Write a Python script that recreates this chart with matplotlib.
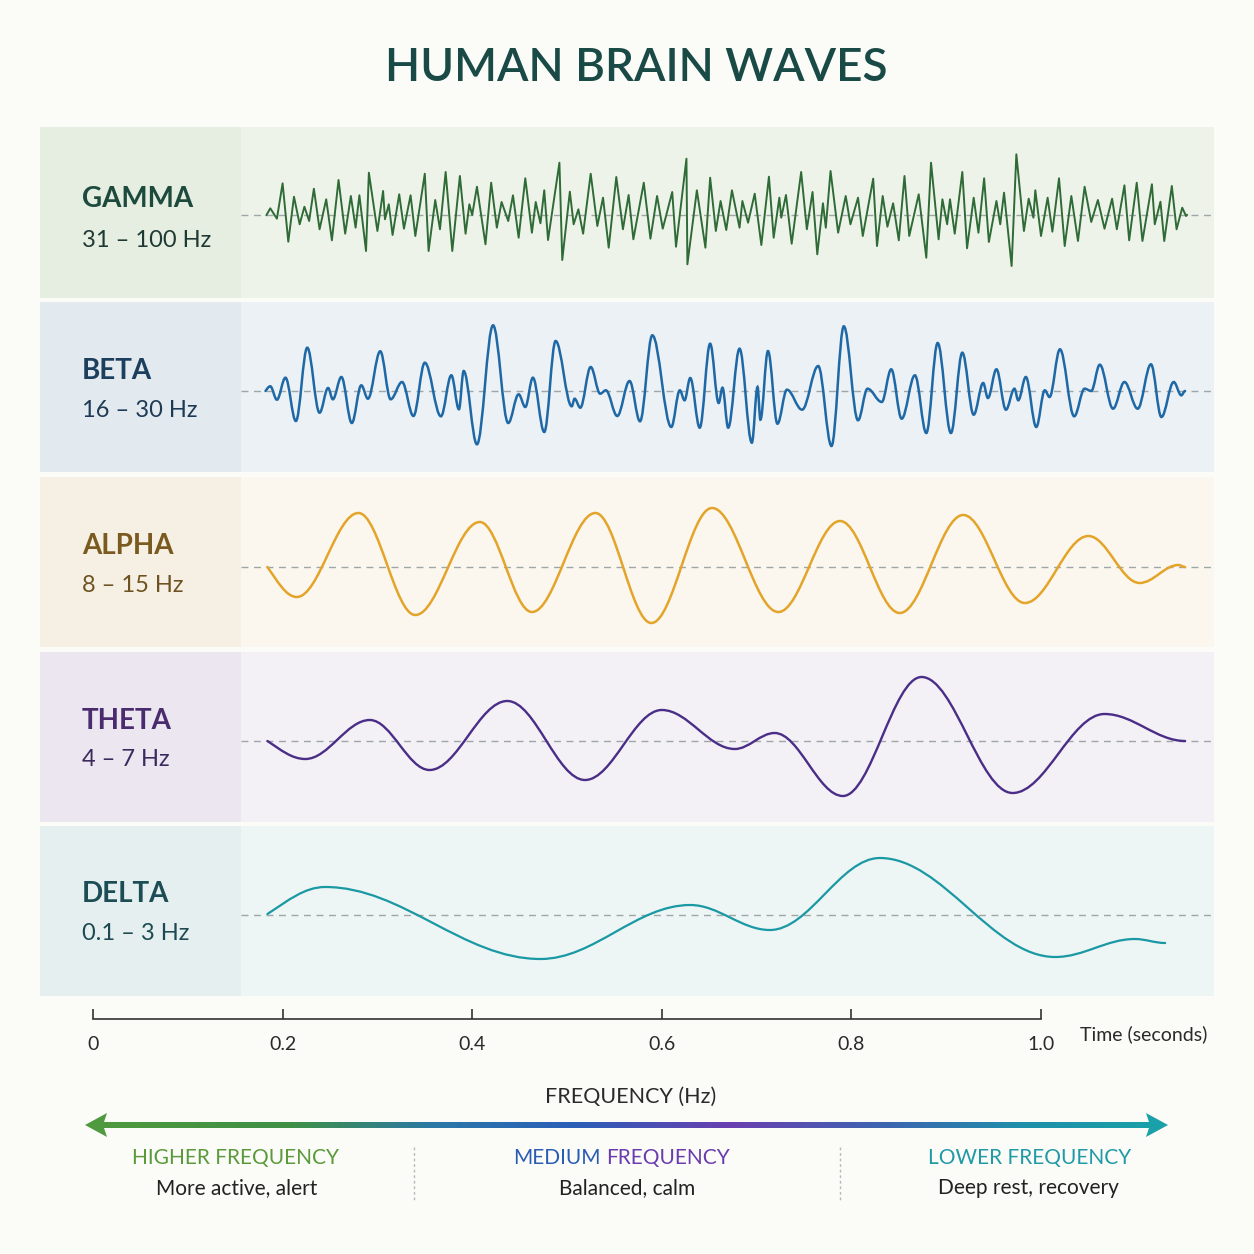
import numpy as np
import matplotlib
matplotlib.use("Agg")
import matplotlib.pyplot as plt
from matplotlib.path import Path
from matplotlib.patches import PathPatch, Polygon
from matplotlib.colors import LinearSegmentedColormap

plt.rcParams['font.family'] = ['Lato', 'DejaVu Sans']

# ---- data: extrema of each trace (time in s, amplitude in display units) ----
band_names = ["GAMMA", "BETA", "ALPHA", "THETA", "DELTA"]
band_ranges = ["31 – 100 Hz", "16 – 30 Hz", "8 – 15 Hz", "4 – 7 Hz", "0.1 – 3 Hz"]

gamma_t = [0.183, 0.187, 0.194, 0.200, 0.206, 0.212, 0.218, 0.223, 0.228, 0.233,
           0.239, 0.246, 0.252, 0.259, 0.266, 0.272, 0.277, 0.281, 0.288, 0.291,
           0.300, 0.306, 0.308, 0.312, 0.316, 0.323, 0.328, 0.335, 0.340, 0.350,
           0.354, 0.361, 0.366, 0.372, 0.379, 0.387, 0.393, 0.397, 0.400, 0.405,
           0.414, 0.420, 0.426, 0.431, 0.438, 0.443, 0.449, 0.456, 0.463, 0.467,
           0.472, 0.476, 0.480, 0.492, 0.495, 0.503, 0.507, 0.512, 0.517, 0.525,
           0.532, 0.538, 0.544, 0.552, 0.559, 0.565, 0.570, 0.581, 0.588, 0.595,
           0.601, 0.611, 0.615, 0.626, 0.627, 0.637, 0.646, 0.651, 0.657, 0.662,
           0.668, 0.674, 0.682, 0.685, 0.691, 0.698, 0.705, 0.713, 0.718, 0.724,
           0.726, 0.731, 0.737, 0.747, 0.753, 0.759, 0.764, 0.770, 0.773, 0.778,
           0.786, 0.794, 0.799, 0.807, 0.812, 0.823, 0.827, 0.833, 0.838, 0.844,
           0.850, 0.856, 0.861, 0.871, 0.879, 0.884, 0.892, 0.896, 0.901, 0.904,
           0.909, 0.917, 0.922, 0.929, 0.934, 0.940, 0.945, 0.953, 0.957, 0.961,
           0.969, 0.974, 0.982, 0.987, 0.992, 0.994, 1.000, 1.007, 1.012, 1.019,
           1.025, 1.032, 1.039, 1.046, 1.053, 1.060, 1.067, 1.075, 1.080, 1.088,
           1.093, 1.101, 1.107, 1.117, 1.120, 1.126, 1.130, 1.138, 1.143, 1.149,
           1.153, 1.154]
gamma_amp = [0, 6.7, -3.7, 31.7, -26.7, 18.3, -9.3, 8.3, -6, 26.3,
             -14.3, 15.7, -25.3, 35, -18.7, 19, -12.7, 19.7, -36, 42.3,
             -16, 24, -4.3, 10.7, -20, 20.7, -13.7, 19.7, -21, 41.3,
             -36, 15, -14.3, 43, -36, 39, -18.7, 10.7, 0, 28.3,
             -29.3, 32.3, -12.7, 13, -6, 19.7, -22.7, 36.7, -17.7, 13,
             -8.3, 24.7, -25, 52.3, -45, 23.3, -9.3, 5.7, -18.7, 41.3,
             -11, 17.3, -32.7, 38, -14.3, 20, -24.3, 32.3, -23.7, 19,
             -13.7, 23, -31.7, 56.3, -49.3, 24.7, -32.7, 37.3, -16, 14,
             -15, 24.7, -12.7, 14, -7.7, 21.3, -30, 38.3, -22.7, 17.3,
             -2.7, 20, -28.7, 43, -14.3, 23, -39.3, 11.7, -12.7, 44,
             -17.7, 19, -9.3, 17.3, -21, 36.3, -31, 19, -11.7, 11.7,
             -25.3, 39, -21, 20.7, -42.7, 52.3, -24.3, 15.7, -9.3, 15.7,
             -18.7, 43, -33.3, 17.3, -17.7, 36.7, -27, 14, -9.3, 22.3,
             -51, 60.7, -16, 16.3, -2.7, 24.7, -21, 17.3, -16.7, 36.7,
             -31, 19, -26, 28.3, -7, 15, -13.7, 16.3, -14.3, 29.7,
             -25.3, 32.3, -26, 30.7, -9.3, 13.3, -26, 29, -14.3, 7.3,
             -1, 0]

beta_t = [0.182, 0.187, 0.194, 0.203, 0.214, 0.226, 0.239, 0.248, 0.253, 0.262,
          0.273, 0.283, 0.290, 0.303, 0.314, 0.326, 0.338, 0.350, 0.367, 0.378,
          0.386, 0.391, 0.405, 0.422, 0.438, 0.449, 0.456, 0.464, 0.476, 0.488,
          0.505, 0.508, 0.514, 0.525, 0.535, 0.541, 0.553, 0.566, 0.577, 0.590,
          0.610, 0.619, 0.624, 0.630, 0.640, 0.651, 0.660, 0.664, 0.670, 0.682,
          0.695, 0.701, 0.704, 0.712, 0.722, 0.732, 0.748, 0.765, 0.779, 0.792,
          0.807, 0.817, 0.832, 0.842, 0.853, 0.867, 0.879, 0.891, 0.905, 0.917,
          0.929, 0.939, 0.944, 0.953, 0.963, 0.972, 0.976, 0.984, 0.995, 1.004,
          1.009, 1.020, 1.035, 1.046, 1.053, 1.062, 1.076, 1.088, 1.102, 1.116,
          1.127, 1.140, 1.148, 1.152]
beta_amp = [0, 4.7, -8.7, 13.3, -30, 43.3, -21.7, 3, -8.3, 14,
            -32, 5.7, -7.7, 39.7, -8.3, 9, -25, 28.3, -25.3, 15.7,
            -18.3, 20, -53.3, 65.7, -32, -3.3, -16, 13.3, -41, 50,
            -15.3, -7.7, -16.7, 24, -2.7, 0.7, -25, 10, -30.3, 55.7,
            -36, 0.7, -9.3, 13, -36.7, 47.3, -12, 3.3, -36.7, 42.3,
            -51.7, 4, -28.7, 40, -32.7, 1.3, -18.7, 25, -55, 64.7,
            -29.3, 2.3, -11, 21.7, -27.7, 15.7, -42, 48, -42, 38.3,
            -23.7, 8, -7, 21.7, -18.7, 2.3, -9.3, 14, -36, 0.7,
            -6, 41.7, -25.3, 2.3, 0, 26.3, -17.7, 9, -17.7, 26.7,
            -26, 9, -4.3, 0]

alpha_t = [0.184, 0.215, 0.280, 0.340, 0.408, 0.463, 0.530, 0.589, 0.653,
           0.723, 0.788, 0.851, 0.918, 0.983, 1.050, 1.104, 1.145, 1.152]
alpha_amp = [0, -30, 54, -48, 45, -45, 54, -56, 59,
             -45, 46, -46, 52, -36, 31, -16, 2, 0]

theta_t = [0.184, 0.224, 0.292, 0.355, 0.437, 0.519, 0.600, 0.677,
           0.719, 0.791, 0.874, 0.970, 1.067, 1.152]
theta_amp = [0, -18, 21, -29, 40, -39, 31, -8,
             8, -55, 64, -52, 27, 0]

delta_t = [0.184, 0.245, 0.472, 0.630, 0.714, 0.830, 1.015, 1.099, 1.131]
delta_amp = [1, 28, -44, 10, -15, 57, -42, -24, -28]

time_ticks = [0, 0.2, 0.4, 0.6, 0.8, 1.0]
time_labels = ["0", "0.2", "0.4", "0.6", "0.8", "1.0"]

# ---- styling ----
wave_colors = ["#2f6b36", "#1f68a6", "#e3a42a", "#4a2d86", "#1a98a4"]
wave_widths = [1.4, 1.8, 1.8, 1.7, 1.6]
panel_bg = ["#eef3ea", "#ebf1f5", "#fcf7ee", "#f3f0f6", "#edf5f5"]
label_bg = ["#e6ede1", "#e2e9ef", "#f6f0e4", "#ebe6f0", "#e5eff0"]
name_colors = ["#1c4a3d", "#1c3f5e", "#7a5a1e", "#4a2c6e", "#1c4c54"]
range_colors = ["#1e3a34", "#1e3a55", "#6e5220", "#3c2a5c", "#1d4a52"]

W = H = 1254
fig = plt.figure(figsize=(12.54, 12.54), dpi=100, facecolor="#fbfbf8")


def px_axes(left, top, right, bottom):
    return fig.add_axes([left / W, 1 - bottom / H, (right - left) / W, (bottom - top) / H])


def to_t(px):
    # pixel column -> seconds on the shared time scale (0 s at 93 px, 1 s at 1041 px)
    return (px - 93) / 948.0


def smooth_path(t, a, k=0.36):
    # cubic segments between extrema, flat tangents at each extremum;
    # the first segment leaves the start point along its chord
    verts = [(t[0], a[0])]
    codes = [Path.MOVETO]
    for i in range(1, len(t)):
        dt = t[i] - t[i - 1]
        if i == 1:
            c1 = (t[0] + k * dt, a[0] + 0.5 * (a[1] - a[0]))
        else:
            c1 = (t[i - 1] + k * dt, a[i - 1])
        verts += [c1, (t[i] - k * dt, a[i]), (t[i], a[i])]
        codes += [Path.CURVE4] * 3
    return Path(verts, codes)


XL = (to_t(40), to_t(1214))
panel_box = [(127, 298, 215), (302, 472, 391), (477, 647, 567), (652, 822, 741), (826, 996, 915)]
series = [(gamma_t, gamma_amp), (beta_t, beta_amp), (alpha_t, alpha_amp),
          (theta_t, theta_amp), (delta_t, delta_amp)]

for i, (top, bot, base) in enumerate(panel_box):
    ax = px_axes(40, top, 1214, bot)
    ax.set_facecolor(panel_bg[i])
    ax.set_xlim(*XL)
    ax.set_ylim(-(bot - base), base - top)
    ax.axvspan(XL[0], to_t(241), color=label_bg[i], lw=0, zorder=0)
    ax.axhline(0, xmin=(241 - 40) / 1174, xmax=1, color="#9ea7a7", lw=1.0,
               dashes=(5, 4), zorder=1)
    t, a = series[i]
    if i == 0:
        ax.plot(t, a, color=wave_colors[i], lw=wave_widths[i], solid_joinstyle="round", zorder=3)
    else:
        ax.add_patch(PathPatch(smooth_path(t, a), fill=False, edgecolor=wave_colors[i],
                               lw=wave_widths[i], capstyle="round", zorder=3))
    for s in ax.spines.values():
        s.set_visible(False)
    ax.set_xticks([])
    ax.set_yticks([])

# ---- time axis ----
tax = px_axes(40, 990, 1214, 1019)
tax.set_xlim(*XL)
tax.set_ylim(0, 1)
tax.patch.set_alpha(0)
for k in ["top", "left", "right"]:
    tax.spines[k].set_visible(False)
tax.spines["bottom"].set_bounds(0, 1)
tax.spines["bottom"].set_color("#333333")
tax.spines["bottom"].set_linewidth(1.2)
tax.set_yticks([])
tax.set_xticks(time_ticks)
tax.set_xticklabels(time_labels)
tax.tick_params(axis="x", direction="in", length=7, width=1.2, color="#333333",
                pad=12, labelsize=14, labelcolor="#2a2a2a")

# ---- overlay for titles, labels, legend ----
ov = fig.add_axes([0, 0, 1, 1])
ov.set_xlim(0, W)
ov.set_ylim(H, 0)
ov.axis("off")
ov.patch.set_alpha(0)

ov.text(636, 68, "HUMAN BRAIN WAVES", ha="center", va="center", fontsize=33,
        fontweight="semibold", color="#1a4a45")

name_y = [207, 379, 554, 729, 902]
range_y = [247, 417, 592, 766, 940]
for i in range(5):
    ov.text(82, name_y[i], band_names[i], ha="left", va="baseline", fontsize=20,
            fontweight="bold", color=name_colors[i])
    ov.text(82, range_y[i], band_ranges[i], ha="left", va="baseline", fontsize=17,
            color=range_colors[i])

ov.text(1080, 1034, "Time (seconds)", ha="left", va="center", fontsize=14, color="#2a2a2a")
ov.text(631, 1097, "FREQUENCY (Hz)", ha="center", va="center", fontsize=15.5, color="#2a2a2a")

# gradient arrow
cmap = LinearSegmentedColormap.from_list(
    "freq", [(0.0, "#4f9a3e"), (0.18, "#3f9046"), (0.32, "#2a78a8"), (0.45, "#2a5fb8"),
             (0.6, "#6a3fb0"), (0.75, "#3c66b0"), (0.88, "#1f90aa"), (1.0, "#1aa0a8")])
grad = np.linspace(0, 1, 512).reshape(1, -1)
ov.imshow(grad, cmap=cmap, extent=(100, 1152, 1128, 1122), aspect="auto", zorder=2)
ov.add_patch(Polygon([(85, 1125), (107, 1113), (103, 1125), (107, 1137)], closed=True,
                     color="#4f9a3e", lw=0, zorder=3))
ov.add_patch(Polygon([(1168, 1125), (1146, 1113), (1150, 1125), (1146, 1137)], closed=True,
                     color="#1aa0a8", lw=0, zorder=3))
ov.set_xlim(0, W)
ov.set_ylim(H, 0)

ov.text(235, 1158, "HIGHER FREQUENCY", ha="center", va="center", fontsize=15, color="#5a9a3a")
ov.text(237, 1188, "More active, alert", ha="center", va="center", fontsize=15, color="#222222")
ov.text(601, 1158, "MEDIUM", ha="right", va="center", fontsize=15, color="#2a5cb4")
ov.text(606, 1158, "FREQUENCY", ha="left", va="center", fontsize=15, color="#6a3cae")
ov.text(627, 1188, "Balanced, calm", ha="center", va="center", fontsize=15, color="#222222")
ov.text(1030, 1158, "LOWER FREQUENCY", ha="center", va="center", fontsize=15, color="#1f9aa6")
ov.text(1028, 1188, "Deep rest, recovery", ha="center", va="center", fontsize=15, color="#222222")
for sx in [414, 840]:
    ov.plot([sx, sx], [1147, 1201], color="#b8b8b8", lw=1, dashes=(2, 2))

fig.savefig("out.png", dpi=100, facecolor=fig.get_facecolor())
